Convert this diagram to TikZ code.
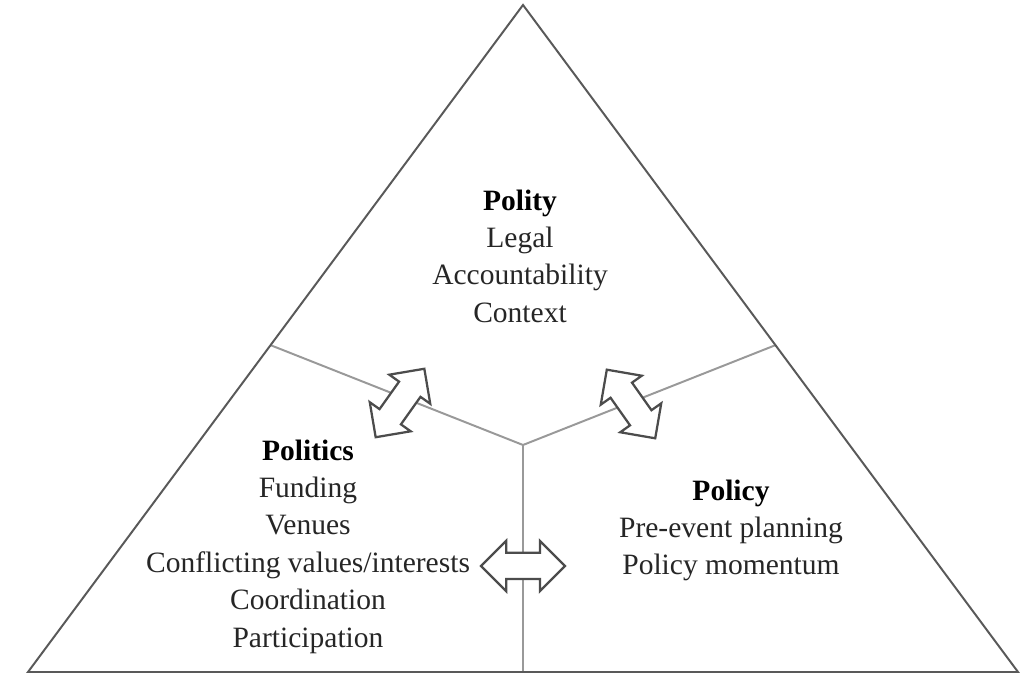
\documentclass[tikz,border=0pt]{standalone}
\usepackage{fontspec}
\setmainfont{Liberation Serif}
\usepackage{tikz}
\usetikzlibrary{shapes.arrows,calc}
\tikzset{lbl/.style={align=center,inner sep=0pt,anchor=north,font=\fontsize{10.5}{13.3}\selectfont,text=black!85}}
\tikzstyle{dbl}=[double arrow,draw=black!70,line width=0.8pt,fill=white,inner xsep=0pt,inner ysep=1.5mm,minimum height=10.5mm,minimum width=6mm,double arrow head extend=1.5mm]
\tikzstyle{side}=[draw=black!65,line width=0.7pt]
\tikzstyle{div}=[draw=black!40,line width=0.7pt]
\newcommand{\ttl}[1]{\textbf{\color{black}#1}}

\begin{document}
\begin{tikzpicture}[x=0.125mm,y=0.125mm,line join=miter]
    \useasboundingbox (0,0) rectangle (1028,674);
    \coordinate (t) at (523,669);
    \coordinate (l) at (28,2);
    \coordinate (r) at (1018,2);
    \coordinate (c) at (523,229);
    \coordinate (ml) at ($(t)!0.51!(l)$);
    \coordinate (mr) at ($(t)!0.51!(r)$);
    \coordinate (mb) at ($(l)!0.5!(r)$);
    \draw[div] (c) -- (ml);
    \draw[div] (c) -- (mr);
    \draw[div] (c) -- (mb);
    \draw[side] (t) -- (l) -- (r) -- cycle;
    \node (a) [dbl,rotate=54.6] at (400,271) {};
    \node (b) [dbl,rotate=125.2] at (631,270) {};
    \node (d) [dbl] at (523,108) {};
    \node (polity) [lbl] at (520,485) {\ttl{Polity}\\Legal\\Accountability\\Context};
    \node (politics) [lbl] at (308,235) {\ttl{Politics}\\Funding\\Venues\\Conflicting values/interests\\Coordination\\Participation};
    \node (policy) [lbl] at (731,195) {\ttl{Policy}\\Pre-event planning\\Policy momentum};
\end{tikzpicture}
\end{document}
